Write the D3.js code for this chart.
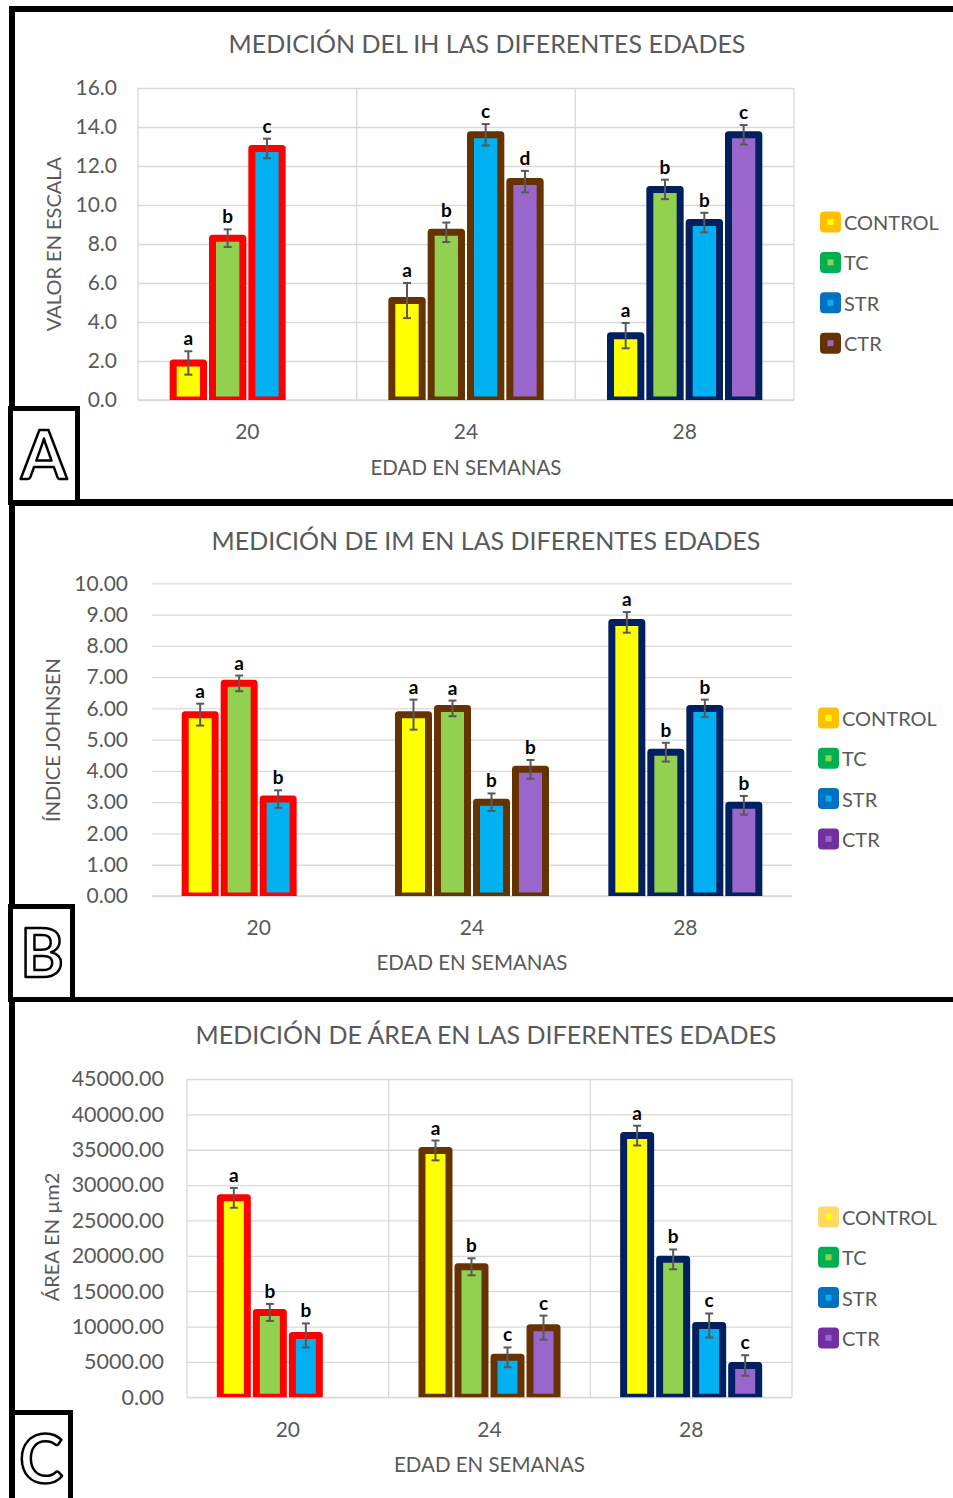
<!DOCTYPE html>
<html>
<head>
<meta charset="utf-8">
<script src="https://cdn.jsdelivr.net/npm/d3@7"></script>
<style>
  body { margin: 0; background: #fff; }
  svg { display: block; }
  text { font-family: Lato, "Open Sans", sans-serif; }
</style>
</head>
<body>
<svg id="fig" width="953" height="1498"></svg>
<script>
// Shared categories and colours
const ages = ["20", "24", "28"];
const groups = ["CONTROL", "TC", "STR", "CTR"];
const groupFill = ["#FFFF00", "#92D050", "#00B0F0", "#9966CC"];
const ageOutline = ["#FF0000", "#663300", "#002060"];

// A: IH score (rows = groups, columns = ages)
const ihMean = [[1.9, 5.1, 3.3], [8.3, 8.6, 10.8], [12.9, 13.6, 9.1], [null, 11.2, 13.6]];
const ihErr = [[0.6, 0.9, 0.65], [0.45, 0.5, 0.5], [0.5, 0.55, 0.5], [null, 0.55, 0.5]];
const ihLetter = [["a", "a", "a"], ["b", "b", "b"], ["c", "c", "b"], [null, "d", "c"]];
const ihTicks = [0, 2, 4, 6, 8, 10, 12, 14, 16];
const ihKey = ["#FFC000", "#00B050", "#0070C0", "#663300"];

// B: Johnsen index
const imMean = [[5.8, 5.8, 8.75], [6.8, 6.0, 4.6], [3.1, 3.0, 6.0], [null, 4.05, 2.9]];
const imErr = [[0.35, 0.48, 0.33], [0.25, 0.25, 0.3], [0.28, 0.28, 0.28], [null, 0.3, 0.3]];
const imLetter = [["a", "a", "a"], ["a", "a", "b"], ["b", "b", "b"], [null, "b", "b"]];
const imTicks = [0, 1, 2, 3, 4, 5, 6, 7, 8, 9, 10];
const imKey = ["#FFC000", "#00B050", "#0070C0", "#7030A0"];

// C: area in µm2
const areaMean = [[28200, 34900, 37000], [12000, 18450, 19500], [8750, 5650, 10150], [null, 9850, 4500]];
const areaErr = [[1400, 1400, 1400], [1200, 1200, 1400], [1700, 1400, 1700], [null, 1700, 1450]];
const areaLetter = [["a", "a", "a"], ["b", "b", "b"], ["b", "c", "c"], [null, "c", "c"]];
const areaTicks = [0, 5000, 10000, 15000, 20000, 25000, 30000, 35000, 40000, 45000];
const areaKey = ["#FFD966", "#00B050", "#0070C0", "#7030A0"];

const svg = d3.select("#fig");
const GRID = "#D9D9D9";
const INK = "#595959";

function panel(o, idx) {
  const g = svg.append("g");
  const x = d3.scaleBand().domain(ages).range([o.x0, o.x1]).padding(0);
  const xs = d3.scaleBand().domain(groups).range([0, x.bandwidth()])
    .paddingInner(0).paddingOuter(o.outer);
  const y = d3.scaleLinear().domain([0, o.ticks[o.ticks.length - 1]]).range([o.yb, o.yt]);

  // horizontal grid + value labels
  const ax = g.append("g").attr("transform", `translate(${o.x0},0)`)
    .call(d3.axisLeft(y).tickValues(o.ticks).tickFormat(d3.format(o.fmt))
      .tickSize(-(o.x1 - o.x0)).tickPadding(o.x0 - o.labelX));
  ax.select(".domain").remove();
  ax.selectAll(".tick line").attr("stroke", GRID).attr("stroke-width", 1.3);
  ax.selectAll(".tick text").attr("fill", INK).attr("font-size", o.tickSize)
    .attr("font-family", "Lato, 'Open Sans', sans-serif");

  // plot-area frame with category separators
  if (o.frame) {
    const xsLines = ages.map(a => x(a)).concat([o.x1]);
    g.selectAll("line.vsep").data(xsLines).join("line")
      .attr("x1", d => d).attr("x2", d => d).attr("y1", o.yt).attr("y2", o.yb)
      .attr("stroke", GRID).attr("stroke-width", 1.3);
  }
  g.append("line").attr("x1", o.x0).attr("x2", o.x1).attr("y1", o.yb).attr("y2", o.yb)
    .attr("stroke", GRID).attr("stroke-width", 1.3);

  // bars clipped at the baseline
  const clipId = "clip" + idx;
  svg.append("clipPath").attr("id", clipId).append("rect")
    .attr("x", o.x0 - 10).attr("y", 0).attr("width", o.x1 - o.x0 + 20).attr("height", o.yb);

  const rows = [];
  groups.forEach((grp, si) => ages.forEach((age, ai) => {
    const v = o.mean[si][ai];
    if (v == null) return;
    rows.push({ si, ai, v, e: o.err[si][ai], l: o.letter[si][ai],
      x0: x(age) + xs(grp), w: xs.bandwidth() });
  }));

  const bars = g.append("g").attr("clip-path", `url(#${clipId})`);
  bars.selectAll("rect").data(rows).join("rect")
    .attr("x", d => d.x0 + 4.5).attr("width", d => d.w - 9)
    .attr("y", d => y(d.v)).attr("height", d => o.yb - y(d.v))
    .attr("fill", d => groupFill[d.si]).attr("stroke", d => ageOutline[d.ai])
    .attr("stroke-width", 7).attr("stroke-linejoin", "round");

  // error bars
  const eb = g.append("g").attr("stroke", "#595959").attr("stroke-width", 2);
  rows.forEach(d => {
    const cx = d.x0 + d.w / 2;
    eb.append("line").attr("x1", cx).attr("x2", cx).attr("y1", y(d.v - d.e)).attr("y2", y(d.v + d.e));
    [d.v - d.e, d.v + d.e].forEach(t => eb.append("line")
      .attr("x1", cx - 4).attr("x2", cx + 4).attr("y1", y(t)).attr("y2", y(t)));
  });

  // significance letters
  g.selectAll("text.sig").data(rows).join("text").attr("class", "sig")
    .attr("x", d => d.x0 + d.w / 2).attr("y", d => y(d.v + d.e) - 6)
    .attr("text-anchor", "middle").attr("font-size", 19).attr("font-weight", 700)
    .attr("fill", "#000").text(d => d.l);

  // age labels
  g.selectAll("text.age").data(ages).join("text").attr("class", "age")
    .attr("x", a => x(a) + x.bandwidth() / 2).attr("y", o.ageY)
    .attr("text-anchor", "middle").attr("font-size", 21).attr("fill", INK).text(a => a);

  // titles
  g.append("text").attr("x", o.titleX).attr("y", o.titleY).attr("text-anchor", "middle")
    .attr("font-size", 25).attr("fill", INK).text(o.title);
  g.append("text").attr("x", (o.x0 + o.x1) / 2).attr("y", o.xTitleY).attr("text-anchor", "middle")
    .attr("font-size", 20.5).attr("fill", INK).text("EDAD EN SEMANAS");
  g.append("text").attr("transform", `translate(${o.yTitleX},${o.yTitleY}) rotate(-90)`)
    .attr("text-anchor", "middle").attr("dominant-baseline", "central")
    .attr("font-size", 20).attr("fill", INK).text(o.yTitle);

  // legend
  const lg = g.append("g");
  groups.forEach((grp, i) => {
    const cy = o.legY + i * o.legStep;
    lg.append("rect").attr("x", o.legX).attr("y", cy - 10.5).attr("width", 21).attr("height", 21)
      .attr("rx", 4).attr("fill", o.key[i]);
    lg.append("rect").attr("x", o.legX + 7.5).attr("y", cy - 3).attr("width", 6).attr("height", 6)
      .attr("fill", groupFill[i]);
    lg.append("text").attr("x", o.legX + 24).attr("y", cy).attr("dominant-baseline", "central")
      .attr("font-size", 20).attr("fill", INK).text(grp);
  });
}

panel({ mean: ihMean, err: ihErr, letter: ihLetter, ticks: ihTicks, key: ihKey, fmt: ".1f",
  x0: 138, x1: 794, yt: 88, yb: 400, outer: 0.78, labelX: 117, tickSize: 21, frame: true,
  title: "MEDICIÓN DEL IH LAS DIFERENTES EDADES", titleX: 487, titleY: 53,
  ageY: 439, xTitleY: 475, yTitle: "VALOR EN ESCALA", yTitleX: 53, yTitleY: 244,
  legX: 820, legY: 222, legStep: 40.4 }, 0);

panel({ mean: imMean, err: imErr, letter: imLetter, ticks: imTicks, key: imKey, fmt: ".2f",
  x0: 152, x1: 792, yt: 583.3, yb: 896, outer: 0.735, labelX: 128, tickSize: 21, frame: false,
  title: "MEDICIÓN DE IM EN LAS DIFERENTES EDADES", titleX: 486, titleY: 550,
  ageY: 935, xTitleY: 970, yTitle: "ÍNDICE JOHNSEN", yTitleX: 52, yTitleY: 740,
  legX: 818, legY: 718, legStep: 40.3 }, 1);

panel({ mean: areaMean, err: areaErr, letter: areaLetter, ticks: areaTicks, key: areaKey, fmt: ".2f",
  x0: 187, x1: 792, yt: 1079, yb: 1397.3, outer: 0.8, labelX: 164, tickSize: 21.5, frame: true,
  title: "MEDICIÓN DE ÁREA EN LAS DIFERENTES EDADES", titleX: 486, titleY: 1044,
  ageY: 1436.5, xTitleY: 1472, yTitle: "ÁREA EN µm2", yTitleX: 51, yTitleY: 1237,
  legX: 818, legY: 1217, legStep: 40.3 }, 2);

// figure frame and panel letters
const frame = svg.append("g").attr("stroke", "#000").attr("fill", "none");
frame.append("line").attr("x1", 9).attr("x2", 953).attr("y1", 9).attr("y2", 9).attr("stroke-width", 6);
frame.append("line").attr("x1", 12).attr("x2", 12).attr("y1", 6).attr("y2", 1498).attr("stroke-width", 6);
frame.append("line").attr("x1", 9).attr("x2", 953).attr("y1", 502.5).attr("y2", 502.5).attr("stroke-width", 7);
frame.append("line").attr("x1", 9).attr("x2", 953).attr("y1", 999.5).attr("y2", 999.5).attr("stroke-width", 5);

const panelTags = ["A", "B", "C"];
const tagBoxes = [[10.5, 408.5, 67, 94], [10.5, 906.5, 62, 93], [12.5, 1412.5, 58, 90]];
const tagBase = [[44, 479], [42, 977], [41, 1483]];
panelTags.forEach((t, i) => {
  const [bx, by, bw, bh] = tagBoxes[i];
  svg.append("rect").attr("x", bx).attr("y", by).attr("width", bw).attr("height", bh)
    .attr("fill", "#fff").attr("stroke", "#000").attr("stroke-width", 5);
  svg.append("text").attr("x", tagBase[i][0]).attr("y", tagBase[i][1]).attr("text-anchor", "middle")
    .attr("font-family", "'Liberation Sans', Arial, sans-serif").attr("font-size", 66)
    .attr("font-weight", 700)
    .attr("fill", "#fff").attr("stroke", "#000").attr("stroke-width", 2.5)
    .attr("stroke-linejoin", "round").text(t);
});
</script>
</body>
</html>
